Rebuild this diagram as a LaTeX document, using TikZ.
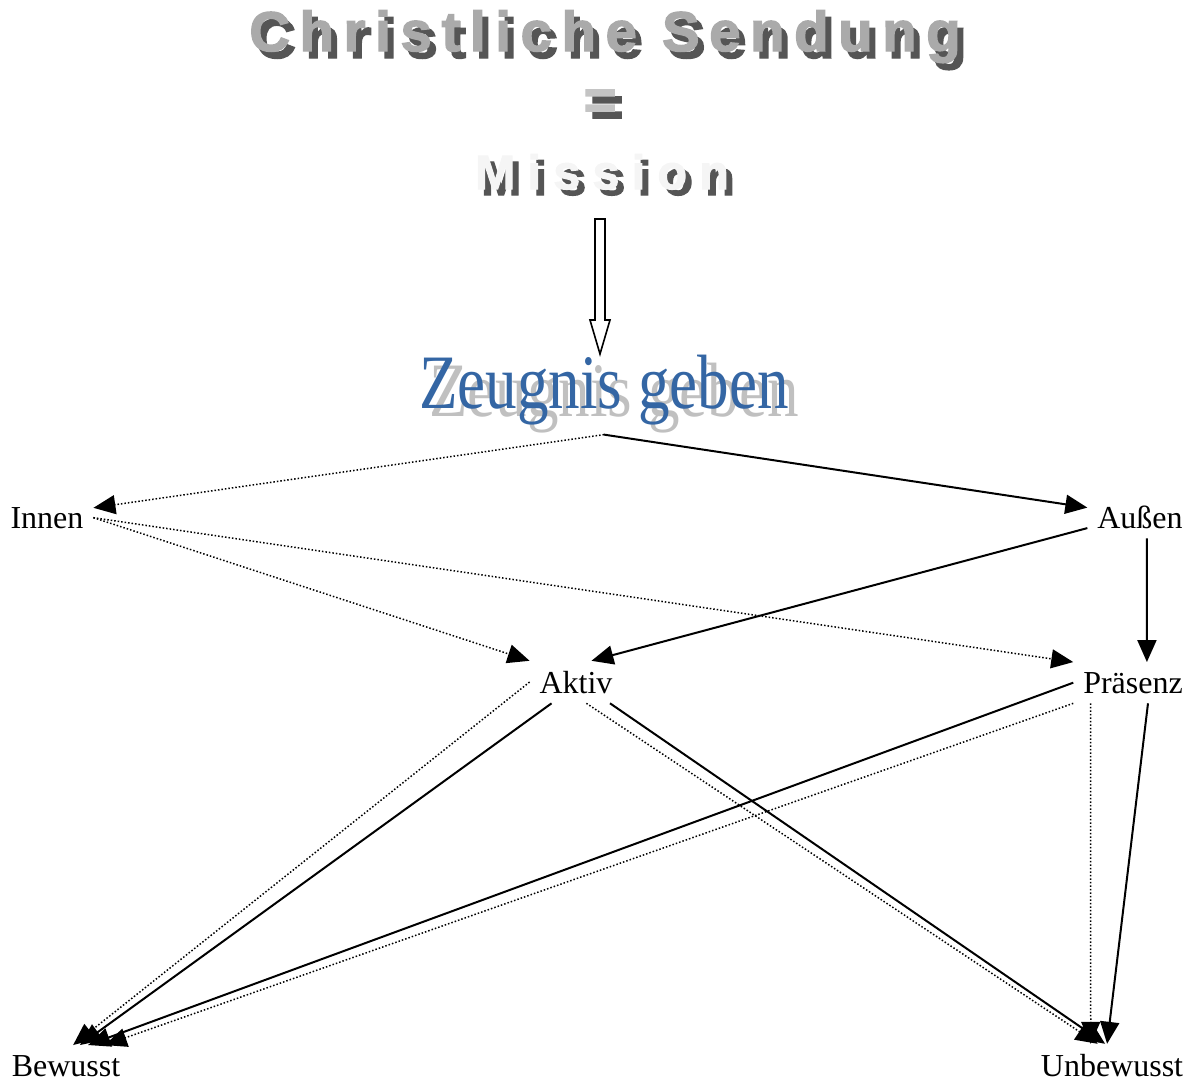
\documentclass[tikz,border=0pt]{standalone}
\usepackage{fontspec}
\setmainfont{Liberation Serif}
\newfontfamily\headfont[LetterSpace=17.5,FakeBold=2.5]{Liberation Sans}
\newfontfamily\missionfont[LetterSpace=26,FakeBold=2.5]{Liberation Sans}
\usetikzlibrary{arrows.meta}

\definecolor{zeugnisblue}{RGB}{52,102,164}
\definecolor{shadowdark}{RGB}{85,85,85}
\definecolor{headgray}{RGB}{170,170,170}
\definecolor{zeugnisshadow}{RGB}{192,192,192}

\tikzstyle{word} = [font=\fontsize{16}{19}\selectfont,inner sep=2pt,outer sep=3pt,anchor=base]
\tikzstyle{headline} = [font=\headfont\bfseries\fontsize{28}{32}\selectfont,inner sep=0pt,anchor=base]
\tikzstyle{missionline} = [font=\missionfont\bfseries\fontsize{24}{28}\selectfont,inner sep=0pt,anchor=base]
\tikzstyle{zeugnisline} = [font=\fontsize{38.5}{44}\selectfont,inner sep=2pt,outer sep=3pt,anchor=base]
\tikzstyle{solid link} = [line width=1pt,-{Triangle[length=11pt,width=9.5pt]}]
\tikzstyle{dotted link} = [line width=0.75pt,densely dotted,-{Triangle[length=11pt,width=9.5pt]}]

\begin{document}
\begin{tikzpicture}[x=0.5pt,y=-0.5pt]
    \useasboundingbox (0,0) rectangle (1194,1082);
    % heading with shadow
    \node[headline,text=shadowdark] at (611,58) {Christliche Sendung};
    \node[headline,text=headgray] (Titel) at (605,51) {Christliche Sendung};
    \node[headline,text=shadowdark] at (607,126) {=};
    \node[headline,text=headgray!70] (Gleich) at (600,119) {=};
    \node[missionline,text=shadowdark] at (608,195) {Mission};
    \node[missionline,text=gray!8] (Mission) at (602,189) {Mission};
    % hollow arrow
    \draw[line width=0.8pt,fill=white] (595,219) -- (605,219) -- (605,320) -- (610,320)
        -- (600,354) -- (590,320) -- (595,320) -- cycle;
    \node[zeugnisline,text=zeugnisshadow] at (614,416) {\scalebox{0.82}[1]{Zeugnis geben}};
    \node[zeugnisline,text=zeugnisblue] (Zeugnis) at (604,408) {\scalebox{0.82}[1]{Zeugnis geben}};
    % levels
    \node[word] (Innen) at (47,528) {Innen};
    \node[word] (Aussen) at (1140,528) {Außen};
    \node[word] (Aktiv) at (576,693) {Aktiv};
    \node[word] (Praesenz) at (1133,693) {Präsenz};
    \node[word] (Bewusst) at (66,1076) {Bewusst};
    \node[word] (Unbewusst) at (1112,1076) {Unbewusst};
    % links
    \draw[dotted link] (Zeugnis.south) -- (Innen.12);
    \draw[solid link] (Zeugnis.south) -- (Aussen.170);
    \draw[dotted link] (Innen.east) -- (Aktiv.north west);
    \draw[dotted link] (Innen.east) -- (Praesenz.north west);
    \draw[solid link] (Aussen.192) -- (Aktiv.54);
    \draw[solid link] (Aussen.288) -- (Praesenz.56);
    \draw[dotted link] (Aktiv.west) -- (Bewusst.71);
    \draw[solid link] (Aktiv.221) -- (Bewusst.56);
    \draw[dotted link] (Aktiv.296) -- (Unbewusst.124);
    \draw[solid link] (Aktiv.328) -- (Unbewusst.108);
    \draw[solid link] (Praesenz.west) -- (Bewusst.43);
    \draw[dotted link] (Praesenz.south west) -- (Bewusst.28);
    \draw[dotted link] (Praesenz.206) -- (Unbewusst.135);
    \draw[solid link] (Praesenz.306) -- (Unbewusst.103);
\end{tikzpicture}
\end{document}
